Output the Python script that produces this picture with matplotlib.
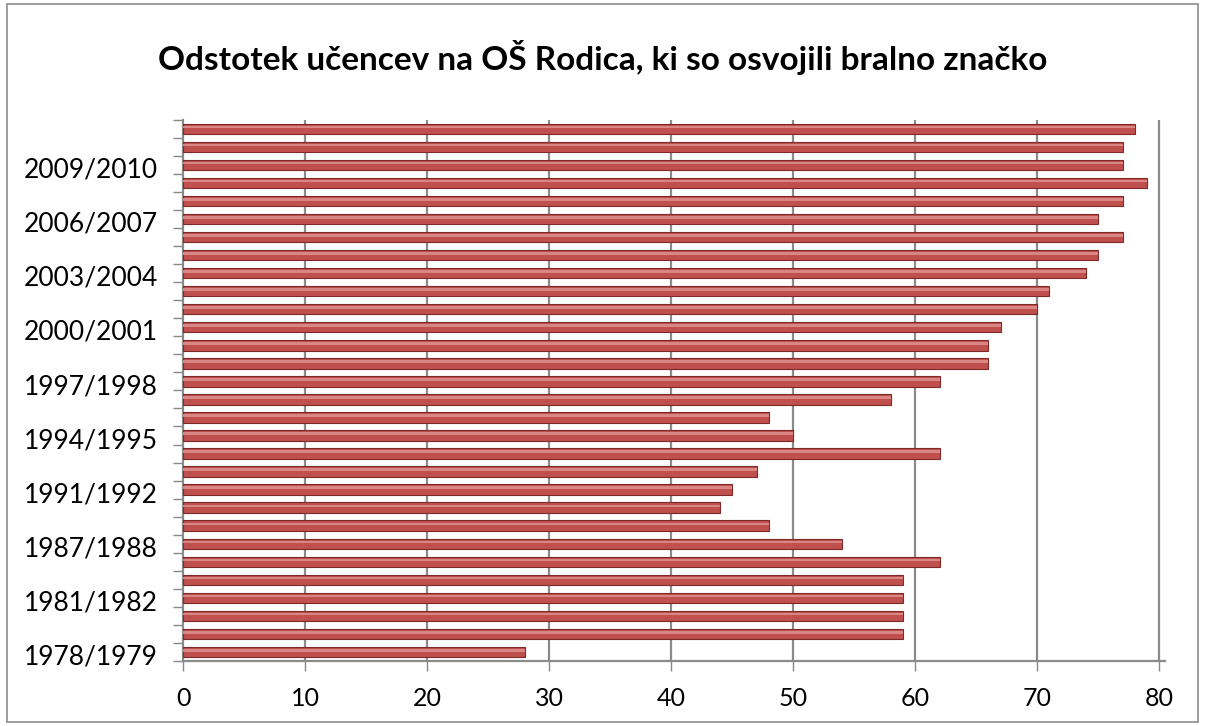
import matplotlib
matplotlib.use("Agg")
import matplotlib.pyplot as plt
from matplotlib.patches import Rectangle

plt.rcParams['font.family'] = ['Lato', 'DejaVu Sans']

years = ["1978/1979", "1979/1980", "1980/1981", "1981/1982", "1985/1986", "1986/1987",
         "1987/1988", "1989/1990", "1990/1991", "1991/1992", "1992/1993", "1993/1994",
         "1994/1995", "1995/1996", "1996/1997", "1997/1998", "1998/1999", "1999/2000",
         "2000/2001", "2001/2002", "2002/2003", "2003/2004", "2004/2005", "2005/2006",
         "2006/2007", "2007/2008", "2008/2009", "2009/2010", "2010/2011", "2011/2012"]
values = [28, 59, 59, 59, 59, 62, 54, 48, 44, 45, 47, 62, 50, 48, 58, 62, 66, 66,
          67, 70, 71, 74, 75, 77, 75, 77, 79, 77, 77, 78]
x_ticks = [0, 10, 20, 30, 40, 50, 60, 70, 80]
title = "Odstotek učencev na OŠ Rodica, ki so osvojili bralno značko"

fig = plt.figure(figsize=(12.05, 7.26), dpi=100)
fig.patches.append(Rectangle((0.006, 0.006), 0.988, 0.988, transform=fig.transFigure,
                             fill=False, edgecolor="#8c8c8c", linewidth=1.2))
ax = fig.add_axes([0.152, 0.0895, 0.815, 0.7455])

pos = list(range(len(years)))
ax.barh(pos, values, height=0.58, color="#C0504D", edgecolor="#7f2a27", linewidth=0.8, zorder=3)
ax.barh([p + 0.1 for p in pos], values, height=0.15, color="#D98784", linewidth=0, zorder=4)

ax.set_xlim(0, 80.5)
ax.set_ylim(-0.5, len(years) - 0.5)
ax.set_xticks(x_ticks)
ax.set_xticklabels([str(t) for t in x_ticks], fontsize=18)
ax.set_yticks([p - 0.15 for p in pos[::3]])
ax.set_yticklabels(years[::3], fontsize=19)
ax.set_yticks([p - 0.5 for p in pos] + [len(years) - 0.5], minor=True)
ax.tick_params(axis='y', which='major', length=0, pad=18)
ax.tick_params(axis='y', which='minor', length=7, color="#888888", width=1)
ax.tick_params(axis='x', length=7, color="#888888", width=1, pad=12)
for t in x_ticks[1:]:
    ax.axvline(t, color="#8a8a8a", linewidth=1.6, zorder=1)
for s in ["top", "right"]:
    ax.spines[s].set_visible(False)
ax.spines["left"].set_color("#8a8a8a")
ax.spines["left"].set_linewidth(1.6)
ax.spines["bottom"].set_color("#8a8a8a")
ax.spines["bottom"].set_linewidth(1.6)

fig.text(0.5, 0.921, title, ha="center", va="center", fontsize=24, fontweight="bold")

fig.savefig("out.png", dpi=100)
